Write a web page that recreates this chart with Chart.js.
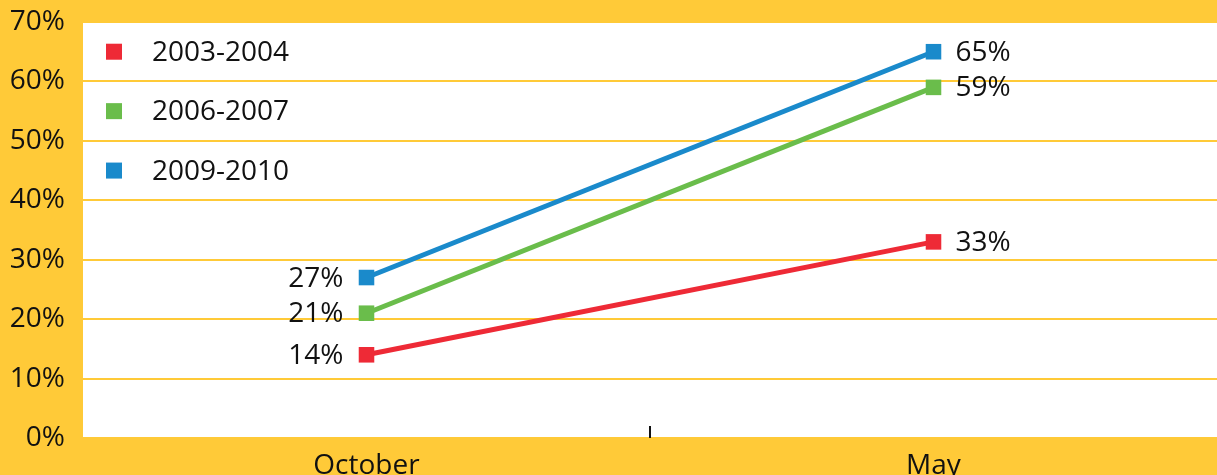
<!DOCTYPE html>
<html>
<head>
<meta charset="utf-8">
<script src="https://cdn.jsdelivr.net/npm/chart.js@4/dist/chart.umd.min.js"></script>
<style>
    html, body { margin: 0; padding: 0; background: #FFCA38; overflow: hidden; }
    #wrap { width: 1217px; height: 475px; }
</style>
</head>
<body>
<div id="wrap"><canvas id="chart"></canvas></div>
<script>
// dane
const kategorie = ['October', 'May'];
const serie = ['2003-2004', '2006-2007', '2009-2010'];
const wartosci2003 = [14, 33];
const wartosci2006 = [21, 59];
const wartosci2009 = [27, 65];
const kolory = ['#EE2A36', '#6ABD4B', '#1A8ACB'];

const FONT = '"Open Sans", "Noto Sans", sans-serif';
const ROZMIAR = 28;
const ZOLTY = '#FFCA38';

// białe tło obszaru wykresu
const tloObszaru = {
    id: 'tloObszaru',
    beforeDraw(chart) {
        const { ctx, chartArea: a } = chart;
        ctx.save();
        ctx.fillStyle = '#ffffff';
        ctx.fillRect(a.left, a.top + 1, a.right - a.left, a.bottom - a.top - 1);
        ctx.restore();
    }
};

// kreska pomiędzy kategoriami na dole
const kreskaSrodkowa = {
    id: 'kreskaSrodkowa',
    afterDatasetsDraw(chart) {
        const { ctx, chartArea: a, scales } = chart;
        const x = Math.round(scales.x.getPixelForValue(0.5));
        ctx.save();
        ctx.fillStyle = '#111';
        ctx.fillRect(x - 1, a.bottom - 12, 2, 12);
        ctx.restore();
    }
};

// etykiety wartości przy punktach
const etykiety = {
    id: 'etykiety',
    afterDatasetsDraw(chart) {
        const { ctx } = chart;
        ctx.save();
        ctx.font = ROZMIAR + 'px ' + FONT;
        ctx.fillStyle = '#111';
        ctx.textBaseline = 'middle';
        chart.data.datasets.forEach((ds, i) => {
            chart.getDatasetMeta(i).data.forEach((pt, j) => {
                const tekst = ds.data[j] + '%';
                if (j === 0) {
                    ctx.textAlign = 'right';
                    ctx.fillText(tekst, pt.x - 23, pt.y + 1);
                } else {
                    ctx.textAlign = 'left';
                    ctx.fillText(tekst, pt.x + 22, pt.y + 1);
                }
            });
        });
        ctx.restore();
    }
};

// legenda wewnątrz obszaru wykresu
const legendaWewn = {
    id: 'legendaWewn',
    afterDraw(chart) {
        const { ctx, chartArea: a } = chart;
        const krok = (a.bottom - a.top) / 7;
        ctx.save();
        ctx.font = ROZMIAR + 'px ' + FONT;
        ctx.textBaseline = 'middle';
        ctx.textAlign = 'left';
        chart.data.datasets.forEach((ds, i) => {
            const y = a.top + krok / 2 + i * krok;
            ctx.fillStyle = ds.borderColor;
            ctx.fillRect(a.left + 23, y - 8, 16, 16);
            ctx.fillStyle = '#111';
            ctx.fillText(ds.label, a.left + 69, y + 1);
        });
        ctx.restore();
    }
};

const zestawy = [wartosci2003, wartosci2006, wartosci2009].map((dane, i) => ({
    label: serie[i],
    data: dane,
    borderColor: kolory[i],
    backgroundColor: kolory[i],
    borderWidth: 5,
    pointStyle: 'rect',
    pointRadius: 11,
    pointBorderWidth: 0,
    pointHoverRadius: 11,
    tension: 0,
    fill: false,
    clip: false
}));

new Chart(document.getElementById('chart').getContext('2d'), {
    type: 'line',
    data: { labels: kategorie, datasets: zestawy },
    options: {
        responsive: true,
        maintainAspectRatio: false,
        animation: false,
        layout: { autoPadding: false, padding: { top: 22, right: 0, left: 0, bottom: 0 } },
        plugins: {
            legend: { display: false },
            tooltip: { enabled: false }
        },
        scales: {
            x: {
                offset: true,
                grid: { display: false },
                border: { display: false },
                ticks: {
                    color: '#111',
                    font: { family: FONT, size: ROZMIAR },
                    padding: 3,
                    maxRotation: 0
                },
                afterFit(scale) {
                    scale.height = 37;
                    scale.paddingLeft = 0;
                    scale.paddingRight = 0;
                }
            },
            y: {
                min: 0,
                max: 70,
                grid: { color: ZOLTY, lineWidth: 2, drawTicks: false },
                border: { display: false },
                ticks: {
                    stepSize: 10,
                    color: '#111',
                    padding: 18,
                    font: { family: FONT, size: ROZMIAR },
                    callback: v => v + '%'
                },
                afterFit(scale) {
                    scale.width = 83;
                    scale.paddingTop = 0;
                    scale.paddingBottom = 0;
                }
            }
        }
    },
    plugins: [tloObszaru, kreskaSrodkowa, etykiety, legendaWewn]
});
</script>
</body>
</html>
